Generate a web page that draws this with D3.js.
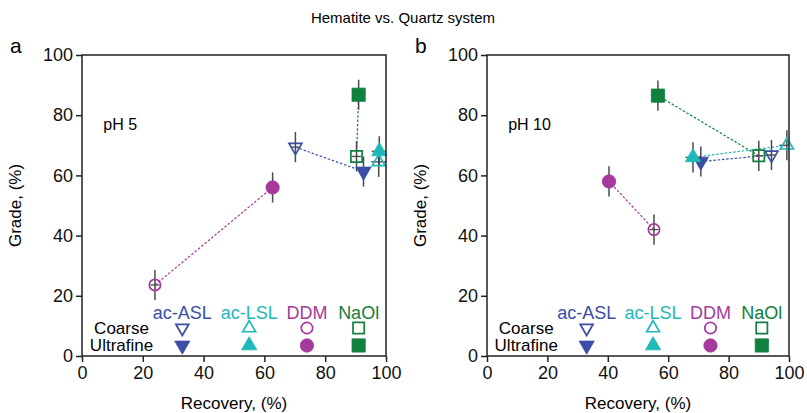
<!DOCTYPE html>
<html>
<head>
<meta charset="utf-8">
<script src="https://cdn.jsdelivr.net/npm/d3@7"></script>
<style>
  body { margin: 0; background: #fff; }
  svg { display: block; font-family: "Liberation Sans", Arial, sans-serif; }
</style>
</head>
<body>
<svg id="chart" width="807" height="413"></svg>
<script>
// reagents in legend order
const reagents = ["ac-ASL", "ac-LSL", "DDM", "NaOl"];
const reagentColors = ["#3a4ea6", "#1fb8b8", "#a5399d", "#10803e"];
// ac-ASL points down, the others use up triangle / circle / square
const reagentShapes = ["down", "up", "circle", "square"];

const xTicks = [0, 20, 40, 60, 80, 100];
const yTicks = [0, 20, 40, 60, 80, 100];

// pH 5 values, one per reagent
const ph5CoarseRec = [70.2, 97.6, 24.0, 90.3];
const ph5CoarseGrade = [69.4, 64.5, 23.6, 66.3];
const ph5FineRec = [92.6, 97.8, 62.7, 91.0];
const ph5FineGrade = [61.3, 68.0, 56.0, 86.8];

// pH 10 values
const ph10CoarseRec = [94.2, 99.3, 55.3, 90.0];
const ph10CoarseGrade = [66.8, 70.0, 42.0, 66.5];
const ph10FineRec = [70.8, 68.2, 40.4, 56.6];
const ph10FineGrade = [64.6, 66.0, 58.0, 86.5];

// error bars
const gradeErr = [5, 5, 5, 5];
const recErr = [1.5, 2.5, 1.5, 1.5];

const svg = d3.select("#chart");

svg.append("text")
  .attr("x", 403)
  .attr("y", 23)
  .attr("text-anchor", "middle")
  .style("font-family", "'Liberation Sans Narrow', 'Arial Narrow', sans-serif")
  .style("font-size", "15px")
  .text("Hematite vs. Quartz system");

function shapePath(shape, filled) {
  const k = filled ? 1 : 0.72;
  if (shape === "circle") return d3.symbol(d3.symbolCircle, 140 * k)();
  if (shape === "square") return d3.symbol(d3.symbolSquare, 175 * k)();
  return d3.symbol(d3.symbolTriangle, 100 * k)();
}

function drawMarker(g, x, y, i, filled) {
  const shape = reagentShapes[i];
  const col = reagentColors[i];
  const rot = shape === "down" ? " rotate(180)" : "";
  g.append("path")
    .attr("d", shapePath(shape, filled))
    .attr("transform", `translate(${x},${y})${rot}`)
    .attr("fill", filled ? col : "none")
    .attr("stroke", col)
    .attr("stroke-width", filled ? 0.8 : 1.7);
}

function drawPanel(opts) {
  const { left, right, top, bottom, letter, phLabel, coarseRec, coarseGrade, fineRec, fineGrade } = opts;

  const x = d3.scaleLinear().domain([0, 100]).range([left, right]);
  const y = d3.scaleLinear().domain([0, 100]).range([bottom, top]);

  const g = svg.append("g");

  const clipId = "clip-" + letter;
  svg.append("clipPath").attr("id", clipId)
    .append("rect")
    .attr("x", left).attr("y", top)
    .attr("width", right - left).attr("height", bottom - top);

  const plot = g.append("g").attr("clip-path", `url(#${clipId})`);

  // dashed connectors coarse <-> ultrafine
  reagents.forEach((r, i) => {
    plot.append("line")
      .attr("x1", x(coarseRec[i])).attr("y1", y(coarseGrade[i]))
      .attr("x2", x(fineRec[i])).attr("y2", y(fineGrade[i]))
      .attr("stroke", reagentColors[i])
      .attr("stroke-width", 1.2)
      .attr("stroke-dasharray", "2.5,1.8");
  });

  // error bars
  const drawErr = (rec, grade) => {
    rec.forEach((v, i) => {
      plot.append("line")
        .attr("x1", x(v)).attr("x2", x(v))
        .attr("y1", y(grade[i] - gradeErr[i])).attr("y2", y(grade[i] + gradeErr[i]))
        .attr("stroke", "#4a4a4a").attr("stroke-width", 1.5);
      plot.append("line")
        .attr("x1", x(v - recErr[i])).attr("x2", x(v + recErr[i]))
        .attr("y1", y(grade[i])).attr("y2", y(grade[i]))
        .attr("stroke", "#4a4a4a").attr("stroke-width", 1.3);
    });
  };
  drawErr(coarseRec, coarseGrade);
  drawErr(fineRec, fineGrade);

  // markers
  coarseRec.forEach((v, i) => drawMarker(g, x(v), y(coarseGrade[i]), i, false));
  fineRec.forEach((v, i) => drawMarker(g, x(v), y(fineGrade[i]), i, true));

  // frame
  g.append("rect")
    .attr("x", left).attr("y", top)
    .attr("width", right - left).attr("height", bottom - top)
    .attr("fill", "none").attr("stroke", "#222").attr("stroke-width", 1.5);

  const xAxis = g.append("g")
    .attr("transform", `translate(0,${bottom})`)
    .call(d3.axisBottom(x).tickValues(xTicks).tickSize(6).tickPadding(4));
  const yAxis = g.append("g")
    .attr("transform", `translate(${left},0)`)
    .call(d3.axisLeft(y).tickValues(yTicks).tickSize(6).tickPadding(3));
  [xAxis, yAxis].forEach(a => {
    a.select(".domain").remove();
    a.selectAll("line").attr("stroke", "#222").attr("stroke-width", 1.5);
    a.selectAll("text")
      .attr("fill", "#111")
      .style("font-family", "'Liberation Sans', Arial, sans-serif")
      .style("font-size", "18px");
  });

  g.append("text")
    .attr("x", (left + right) / 2)
    .attr("y", 409)
    .attr("text-anchor", "middle")
    .style("font-size", "17px")
    .text("Recovery, (%)");

  g.append("text")
    .attr("transform", `translate(${left - 61},${(top + bottom) / 2}) rotate(-90)`)
    .attr("text-anchor", "middle")
    .style("font-size", "17px")
    .text("Grade, (%)");

  g.append("text")
    .attr("x", left - 72)
    .attr("y", 53)
    .style("font-size", "21px")
    .text(letter);

  g.append("text")
    .attr("x", x(7))
    .attr("y", y(77) + 6)
    .style("font-size", "16px")
    .text(phLabel);

  // legend inside the plot
  const legendX = [33, 55, 74, 91];
  reagents.forEach((r, i) => {
    g.append("text")
      .attr("x", x(legendX[i]))
      .attr("y", y(14.4) + 6)
      .attr("text-anchor", "middle")
      .attr("fill", reagentColors[i])
      .style("font-size", "18px")
      .text(r);
    drawMarker(g, x(legendX[i]), y(9.3), i, false);
    drawMarker(g, x(legendX[i]), y(3.5), i, true);
  });
  g.append("text")
    .attr("x", x(13)).attr("y", y(9.3) + 6)
    .attr("text-anchor", "middle")
    .style("font-size", "17px")
    .text("Coarse");
  g.append("text")
    .attr("x", x(13)).attr("y", y(3.5) + 6)
    .attr("text-anchor", "middle")
    .style("font-size", "17px")
    .text("Ultrafine");
}

drawPanel({
  left: 82, right: 386, top: 55, bottom: 356,
  letter: "a", phLabel: "pH 5",
  coarseRec: ph5CoarseRec, coarseGrade: ph5CoarseGrade,
  fineRec: ph5FineRec, fineGrade: ph5FineGrade
});

drawPanel({
  left: 487, right: 789, top: 55, bottom: 356,
  letter: "b", phLabel: "pH 10",
  coarseRec: ph10CoarseRec, coarseGrade: ph10CoarseGrade,
  fineRec: ph10FineRec, fineGrade: ph10FineGrade
});
</script>
</body>
</html>
